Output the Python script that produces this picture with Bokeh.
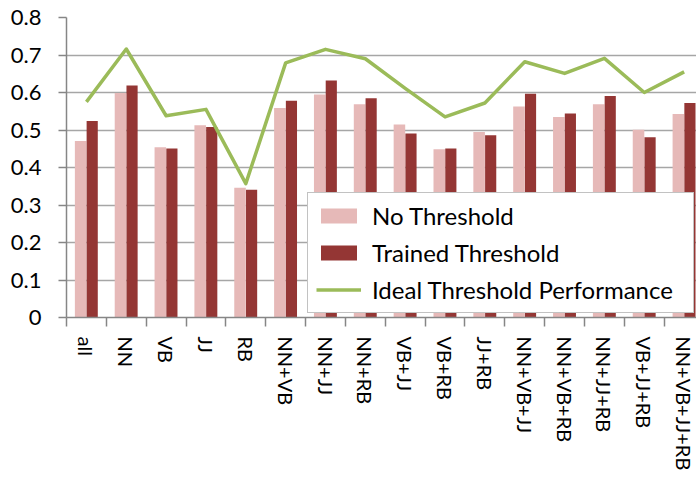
import numpy as np
from bokeh.plotting import figure
from bokeh.models import (Range1d, FixedTicker, NumeralTickFormatter, Legend,
                          LegendItem, ColumnDataSource)
from bokeh.transform import dodge
from bokeh.embed import file_html
from bokeh.resources import INLINE

categories = ["all", "NN", "VB", "JJ", "RB", "NN+VB", "NN+JJ", "NN+RB", "VB+JJ",
              "VB+RB", "JJ+RB", "NN+VB+JJ", "NN+VB+RB", "NN+JJ+RB", "VB+JJ+RB",
              "NN+VB+JJ+RB"]
no_threshold = [0.471, 0.599, 0.454, 0.513, 0.346, 0.559, 0.595, 0.569, 0.515,
                0.449, 0.495, 0.563, 0.535, 0.569, 0.501, 0.543]
trained_threshold = [0.524, 0.619, 0.451, 0.508, 0.341, 0.578, 0.632, 0.585, 0.491,
                     0.451, 0.486, 0.597, 0.544, 0.591, 0.481, 0.572]
ideal_threshold = [0.575, 0.716, 0.538, 0.555, 0.357, 0.679, 0.715, 0.690, 0.611,
                   0.535, 0.572, 0.682, 0.651, 0.691, 0.600, 0.655]
y_ticks = [0, 0.1, 0.2, 0.3, 0.4, 0.5, 0.6, 0.7, 0.8]

FONT = "Lato"
idx = list(range(len(categories)))
src = ColumnDataSource(dict(x=idx, a=no_threshold, b=trained_threshold, c=ideal_threshold))

p = figure(width=696, height=478, output_backend="svg", toolbar_location=None,
           x_range=Range1d(-0.5, len(categories) - 0.69), y_range=Range1d(0, 0.8),
           min_border_left=66, min_border_right=0, min_border_top=17,
           min_border_bottom=161)
p.outline_line_color = None
p.background_fill_color = "white"
p.border_fill_color = "white"

r1 = p.vbar(x=dodge("x", -0.145, range=p.x_range), top="a", width=0.29, source=src,
            fill_color="#E6B9B8", line_color=None)
r2 = p.vbar(x=dodge("x", 0.145, range=p.x_range), top="b", width=0.28, source=src,
            fill_color="#943634", line_color=None)
r3 = p.line(x="x", y="c", source=src, line_color="#9BBB59", line_width=3.5,
            line_join="round")

# x axis
xa = p.xaxis[0]
xa.ticker = FixedTicker(ticks=idx, minor_ticks=[i - 0.5 for i in range(len(categories) + 1)])
xa.major_label_overrides = {i: c for i, c in zip(idx, categories)}
xa.major_label_orientation = "vertical"
xa.major_tick_line_color = None
xa.major_tick_in = 0
xa.major_tick_out = 9
xa.minor_tick_in = 0
xa.minor_tick_out = 9
xa.minor_tick_line_color = "#868686"
xa.minor_tick_line_width = 1.5
xa.major_label_standoff = 10
xa.axis_line_color = "#868686"
xa.axis_line_width = 1.5
xa.major_label_text_font = FONT
xa.major_label_text_font_size = "20px"
xa.major_label_text_color = "black"

# y axis
ya = p.yaxis[0]
ya.ticker = FixedTicker(ticks=y_ticks)
ya.formatter = NumeralTickFormatter(format="0.[0]")
ya.major_tick_in = 0
ya.major_tick_out = 8
ya.minor_tick_line_color = None
ya.major_tick_line_color = "#868686"
ya.major_tick_line_width = 1.5
ya.axis_line_color = "#868686"
ya.axis_line_width = 1.5
ya.major_label_standoff = 17
ya.major_label_text_font = FONT
ya.major_label_text_font_size = "22px"
ya.major_label_text_color = "black"

p.xgrid.grid_line_color = None
p.ygrid.grid_line_color = "#A6A6A6"
p.ygrid.grid_line_width = 1.5

legend = Legend(items=[LegendItem(label="No Threshold", renderers=[r1]),
                       LegendItem(label="Trained Threshold", renderers=[r2]),
                       LegendItem(label="Ideal Threshold Performance", renderers=[r3])],
                location=(241, 4))
legend.label_text_font = FONT
legend.label_text_font_size = "24px"
legend.label_text_color = "black"
legend.padding = 8
legend.spacing = 8
legend.glyph_width = 45
legend.glyph_height = 19
legend.label_standoff = 11
legend.label_width = 313
legend.border_line_color = "#868686"
legend.border_line_width = 1.5
legend.background_fill_color = "white"
legend.background_fill_alpha = 1.0
legend.margin = 0
p.add_layout(legend, "center")

open("out.html", "w").write(file_html(p, INLINE))
